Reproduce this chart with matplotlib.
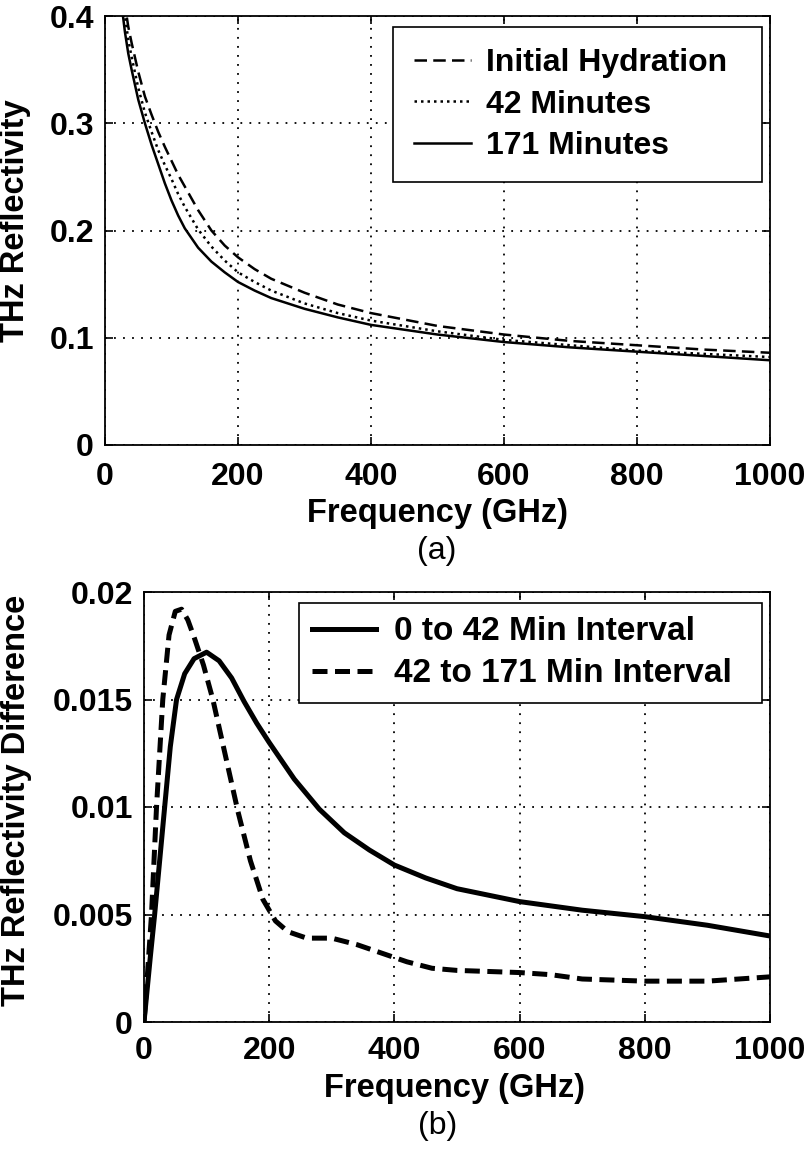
import matplotlib
matplotlib.use('Agg')
import matplotlib.pyplot as plt

# -----------------------------
# 1) Data
# -----------------------------
freq_a = [25, 30, 35, 40, 50, 60, 70, 80, 90, 100, 110, 120, 140, 160, 180,
          200, 225, 250, 300, 350, 400, 500, 600, 700, 800, 900, 1000]
refl_initial = [0.430, 0.410, 0.390, 0.375, 0.348, 0.325, 0.308, 0.292, 0.278,
                0.265, 0.252, 0.241, 0.219, 0.200, 0.186, 0.175, 0.164, 0.155,
                0.142, 0.131, 0.123, 0.111, 0.103, 0.097, 0.093, 0.089, 0.086]
refl_42 = [0.425, 0.400, 0.378, 0.362, 0.333, 0.310, 0.292, 0.275, 0.261,
           0.248, 0.234, 0.222, 0.201, 0.185, 0.172, 0.161, 0.152, 0.144,
           0.132, 0.123, 0.116, 0.106, 0.098, 0.093, 0.088, 0.085, 0.082]
refl_171 = [0.410, 0.385, 0.365, 0.350, 0.322, 0.300, 0.280, 0.262, 0.244,
            0.228, 0.214, 0.202, 0.184, 0.171, 0.161, 0.152, 0.144, 0.137,
            0.127, 0.119, 0.112, 0.103, 0.096, 0.091, 0.087, 0.083, 0.079]

freq_b1 = [0, 5, 10, 17, 25, 33, 42, 52, 65, 80, 100, 120, 140, 160, 180, 200,
           240, 280, 320, 360, 400, 450, 500, 600, 700, 800, 900, 1000]
diff_0_42 = [0.0, 0.0015, 0.0030, 0.0050, 0.0075, 0.0100, 0.0128, 0.0150,
             0.0162, 0.0169, 0.0172, 0.0168, 0.0160, 0.0149, 0.0139, 0.0130,
             0.0113, 0.0099, 0.0088, 0.0080, 0.0073, 0.0067, 0.0062, 0.0056,
             0.0052, 0.0049, 0.0045, 0.0040]

freq_b2 = [0, 5, 12, 20, 30, 40, 50, 60, 70, 80, 95, 110, 130, 150, 170, 190,
           210, 230, 260, 300, 340, 380, 420, 460, 500, 600, 650, 700, 800,
           900, 1000]
diff_42_171 = [0.0, 0.0020, 0.0050, 0.0100, 0.0150, 0.0180, 0.0191, 0.0192,
               0.0187, 0.0179, 0.0166, 0.0150, 0.0124, 0.0098, 0.0075, 0.0057,
               0.0047, 0.0042, 0.0039, 0.0039, 0.0036, 0.0032, 0.0028, 0.0025,
               0.0024, 0.0023, 0.0022, 0.0020, 0.0019, 0.0019, 0.0021]

xticks = [0, 200, 400, 600, 800, 1000]
yticks_a = [0, 0.1, 0.2, 0.3, 0.4]
ytick_labels_a = ['0', '0.1', '0.2', '0.3', '0.4']
yticks_b = [0, 0.005, 0.01, 0.015, 0.02]
ytick_labels_b = ['0', '0.005', '0.01', '0.015', '0.02']

# -----------------------------
# 2) Style
# -----------------------------
plt.rcParams['font.family'] = ['Liberation Sans', 'DejaVu Sans']
plt.rcParams['font.weight'] = 'bold'
plt.rcParams['font.size'] = 22

W, H = 810, 1152
fig = plt.figure(figsize=(W / 100, H / 100), dpi=100)


def px_axes(left, top, right, bottom):
    return fig.add_axes([left / W, 1 - bottom / H, (right - left) / W, (bottom - top) / H])


def px_box(left, top, right, bottom):
    return (left / W, 1 - bottom / H, (right - left) / W, (bottom - top) / H)


def style_axes(ax, xpad):
    ax.grid(True, color='black', linestyle=(0, (1, 4)), linewidth=1.3)
    ax.tick_params(direction='in', top=True, right=True, length=6, width=1.2,
                   labelsize=23, pad=8)
    ax.tick_params(axis='x', pad=xpad)
    for s in ax.spines.values():
        s.set_linewidth(1.3)
    for lab in ax.get_xticklabels() + ax.get_yticklabels():
        lab.set_fontweight('bold')


# -----------------------------
# 3) Panel (a)
# -----------------------------
ax1 = px_axes(105, 16, 770, 445)
ax1.plot(freq_a, refl_initial, color='black', lw=1.8, dashes=(5, 2.5), label='Initial Hydration')
ax1.plot(freq_a, refl_42, color='black', lw=1.8, dashes=(1, 1.6), label='42 Minutes')
ax1.plot(freq_a, refl_171, color='black', lw=1.8, label='171 Minutes')
ax1.set_xlim(0, 1000)
ax1.set_ylim(0, 0.4)
ax1.set_xticks(xticks)
ax1.set_yticks(yticks_a)
ax1.set_yticklabels(ytick_labels_a)
style_axes(ax1, 12)
ax1.set_xlabel('Frequency (GHz)', fontsize=23.5, fontweight='bold')
ax1.xaxis.set_label_coords(0.5, (445 - 498) / 430)
ax1.set_ylabel('THz Reflectivity', fontsize=23.5, fontweight='bold')
ax1.yaxis.set_label_coords((31 - 105) / 665, 0.523)
leg1 = ax1.legend(loc='upper left', bbox_to_anchor=px_box(393, 27, 762, 177), mode='expand',
                  bbox_transform=fig.transFigure, borderaxespad=0, fancybox=False,
                  edgecolor='black', framealpha=1, handlelength=1.8, handletextpad=0.45,
                  borderpad=0.65, labelspacing=0.37, prop={'size': 23, 'weight': 'bold'})
leg1.get_frame().set_linewidth(1.2)
fig.text(437 / W, 1 - 551 / H, '(a)', ha='center', va='center', fontsize=23, fontweight='normal')

# -----------------------------
# 4) Panel (b)
# -----------------------------
ax2 = px_axes(144, 592, 770, 1022)
ax2.plot(freq_b1, diff_0_42, color='black', lw=3.6, label='0 to 42 Min Interval')
ax2.plot(freq_b2, diff_42_171, color='black', lw=3.6, dashes=(3, 1.5), label='42 to 171 Min Interval')
ax2.set_xlim(0, 1000)
ax2.set_ylim(0, 0.02)
ax2.set_xticks(xticks)
ax2.set_yticks(yticks_b)
ax2.set_yticklabels(ytick_labels_b)
style_axes(ax2, 10)
ax2.set_xlabel('Frequency (GHz)', fontsize=23.5, fontweight='bold')
ax2.xaxis.set_label_coords((455 - 144) / 626, (1022 - 1073) / 430)
ax2.set_ylabel('THz Reflectivity Difference', fontsize=23.5, fontweight='bold')
ax2.yaxis.set_label_coords((32 - 144) / 626, 0.516)
leg2 = ax2.legend(loc='upper left', bbox_to_anchor=px_box(299, 603, 762, 707), mode='expand',
                  bbox_transform=fig.transFigure, borderaxespad=0, fancybox=False,
                  edgecolor='black', framealpha=1, handlelength=1.9, handletextpad=0.55,
                  borderpad=0.4, labelspacing=0.33, prop={'size': 24, 'weight': 'bold'})
leg2.get_frame().set_linewidth(1.2)
fig.text(438 / W, 1 - 1126 / H, '(b)', ha='center', va='center', fontsize=23, fontweight='normal')

fig.savefig('out.png', dpi=100, facecolor='white')
